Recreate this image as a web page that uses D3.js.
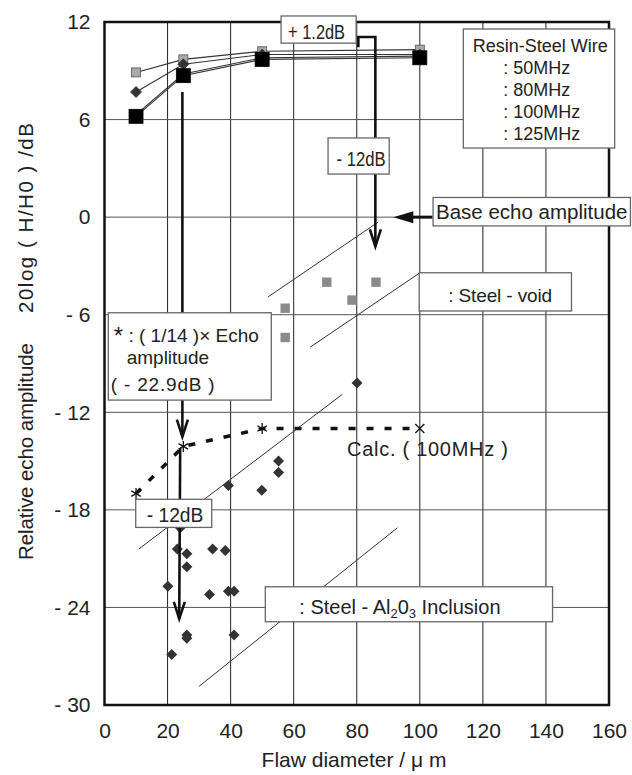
<!DOCTYPE html>
<html><head><meta charset="utf-8">
<script src="https://cdn.jsdelivr.net/npm/d3@7"></script>
<style>
body{margin:0;background:#fff}
text{font-family:"Liberation Sans",Arial,Helvetica,sans-serif;fill:#222}
</style>
</head><body>
<svg id="chart" width="632" height="775"></svg>
<script>
// ---------------- data ----------------
const xTicks = [0,20,40,60,80,100,120,140,160];
const yTicks = [-30,-24,-18,-12,-6,0,6,12];

const wireDiam = [10,25,50,100];
const freqLabels = ["50MHz","80MHz","100MHz","125MHz"];
const wire50MHz  = [8.9, 9.7, 10.2, 10.3];
const wire80MHz  = [7.7, 9.4, 10.0, 10.0];
const wire100MHz = [6.3, 8.8, 9.8, 9.9];
const wire125MHz = [6.2, 8.7, 9.7, 9.8];

const voidDiam = [57.3, 57.3, 70.5, 78.5, 86.1];
const voidAmp  = [-5.6, -7.4, -4.0, -5.1, -4.0];

const inclDiam = [80.1, 55.2, 55.2, 39.3, 49.9, 24.0, 23.1, 26.1, 26.1, 34.3, 38.3, 20.1, 33.3, 39.3, 41.1, 26.1, 26.1, 41.1, 21.3];
const inclAmp  = [-10.2,-15.0,-15.7,-16.5,-16.8,-19.1,-20.4,-20.7,-21.5,-20.4,-20.5,-22.7,-23.2,-23.0,-23.0,-25.7,-25.9,-25.7,-26.9];

const calcDiam = [10, 25, 50, 100];
const calcAmp  = [-17.0, -14.1, -13.0, -13.0];

// ---------------- layout ----------------
const svg = d3.select("#chart");
const x = d3.scaleLinear().domain([0,160]).range([104.5,609]);
const y = d3.scaleLinear().domain([-30,12]).range([705,22]);

// grid
const g = svg.append("g");
g.selectAll(".vg").data(xTicks.slice(1,-1)).join("line")
  .attr("x1",d=>x(d)).attr("x2",d=>x(d)).attr("y1",y(12)).attr("y2",y(-30))
  .attr("stroke","#222").attr("stroke-width",1);
g.selectAll(".hg").data(yTicks.slice(1,-1)).join("line")
  .attr("x1",x(0)).attr("x2",x(160)).attr("y1",d=>y(d)).attr("y2",d=>y(d))
  .attr("stroke","#555").attr("stroke-width",1);

// axes
const xAxis = svg.append("g").attr("transform",`translate(0,${y(-30)})`)
  .call(d3.axisBottom(x).tickValues(xTicks).tickSize(0).tickPadding(18).tickFormat(d=>d));
xAxis.select(".domain").remove();
xAxis.selectAll("text").attr("font-size",21).attr("font-family",null).attr("fill","#222");

const yAxis = svg.append("g").attr("transform",`translate(${x(0)},0)`)
  .call(d3.axisLeft(y).tickValues(yTicks).tickSize(0).tickPadding(14)
    .tickFormat(d=> d<0 ? "- "+Math.abs(d) : String(d)));
yAxis.select(".domain").remove();
yAxis.selectAll("text").attr("font-size",21).attr("font-family",null).attr("fill","#222");

// axis titles
svg.append("text").attr("transform","translate(33,560) rotate(-90)")
  .attr("font-size",20.5).attr("textLength",217).attr("lengthAdjust","spacing")
  .text("Relative echo amplitude");
svg.append("text").attr("transform","translate(33,313) rotate(-90)")
  .attr("font-size",20.5).attr("textLength",190).attr("lengthAdjust","spacing")
  .text("20log ( H/H0 ) /dB");
svg.append("text").attr("x",354).attr("y",767).attr("text-anchor","middle")
  .attr("font-size",21)
  .text("Flaw diameter / μ m");

// guide lines (diagonal)
const guideLines = [
  [[51.9,-4.9],[86.8,-0.3]],
  [[65.2,-8.0],[99.8,-3.45]],
  [[10.95,-20.4],[75.4,-10.9]],
  [[30.0,-28.85],[92.9,-19.1]]
];
const line = d3.line().x(d=>x(d[0])).y(d=>y(d[1]));
svg.append("g").selectAll("path").data(guideLines).join("path")
  .attr("d",line).attr("fill","none").attr("stroke","#333").attr("stroke-width",1);

// calc dashed line
const calcPts = calcDiam.map((d,i)=>[d,calcAmp[i]]);
svg.append("path").attr("d",line(calcPts)).attr("fill","none")
  .attr("stroke","#111").attr("stroke-width",3.5).attr("stroke-dasharray","7 11");

// wire series
const series = [
  {name:freqLabels[0], vals:wire50MHz, shape:"sq", size:9, fill:"#a9a9a9", stroke:"#555"},
  {name:freqLabels[1], vals:wire80MHz, shape:"dia", size:11, fill:"#333", stroke:"#333"},
  {name:freqLabels[2], vals:wire100MHz, shape:"sq", size:7, fill:"#111", stroke:"#111"},
  {name:freqLabels[3], vals:wire125MHz, shape:"sq", size:14, fill:"#000", stroke:"#000"}
];
series.forEach(s=>{
  svg.append("path").attr("d",line(wireDiam.map((d,i)=>[d,s.vals[i]])))
    .attr("fill","none").attr("stroke","#333").attr("stroke-width",1.1);
});
function drawMarker(sel, shape, size){
  if(shape==="sq"){
    sel.append("rect").attr("x",-size/2).attr("y",-size/2).attr("width",size).attr("height",size);
  } else {
    const h=size/2;
    sel.append("path").attr("d",`M0,${-h}L${h},0L0,${h}L${-h},0Z`);
  }
}
series.forEach(s=>{
  wireDiam.forEach((d,i)=>{
    const m = svg.append("g").attr("transform",`translate(${x(d)},${y(s.vals[i])})`)
      .attr("fill",s.fill).attr("stroke",s.stroke).attr("stroke-width",0.8);
    drawMarker(m,s.shape,s.size);
  });
});

// steel-void squares
svg.append("g").selectAll("rect").data(voidDiam.map((d,i)=>[d,voidAmp[i]])).join("rect")
  .attr("x",d=>x(d[0])-4.7).attr("y",d=>y(d[1])-4.7).attr("width",9.4).attr("height",9.4)
  .attr("fill","#8a8a8a");
// inclusion diamonds
svg.append("g").selectAll("path").data(inclDiam.map((d,i)=>[d,inclAmp[i]])).join("path")
  .attr("transform",d=>`translate(${x(d[0])},${y(d[1])})`)
  .attr("d","M0,-5.5L5.5,0L0,5.5L-5.5,0Z").attr("fill","#333");

// calc markers: asterisks + cross at last
calcPts.forEach((p,i)=>{
  const gg = svg.append("g").attr("transform",`translate(${x(p[0])},${y(p[1])})`)
    .attr("stroke","#111").attr("stroke-width",1.3);
  if(i<calcPts.length-1){
    [0,60,120].forEach(a=>{
      const r=5.5, t=a*Math.PI/180;
      gg.append("line").attr("x1",-r*Math.sin(t)).attr("y1",-r*Math.cos(t))
        .attr("x2",r*Math.sin(t)).attr("y2",r*Math.cos(t));
    });
  } else {
    gg.append("line").attr("x1",-4.5).attr("y1",-4.5).attr("x2",4.5).attr("y2",4.5);
    gg.append("line").attr("x1",-4.5).attr("y1",4.5).attr("x2",4.5).attr("y2",-4.5);
  }
});

// arrows
function vArrow(pts){
  svg.append("path").attr("d",line(pts)).attr("fill","none")
    .attr("stroke","#111").attr("stroke-width",2.6).attr("stroke-linejoin","miter");
  const a=pts[pts.length-1], b=pts[pts.length-2];
  const tx=x(a[0]), ty=y(a[1]);
  const ang=Math.atan2(ty-y(b[1]), tx-x(b[0]));
  const L=17, W=5.5;
  const bx=tx-L*Math.cos(ang), by=ty-L*Math.sin(ang);
  const nx=-Math.sin(ang)*W, ny=Math.cos(ang)*W;
  svg.append("path").attr("d",`M${bx+nx},${by+ny}L${tx},${ty}L${bx-nx},${by-ny}`)
    .attr("fill","none").attr("stroke","#111").attr("stroke-width",2.6);
}
vArrow([[24.7,7.7],[24.7,-13.5]]);
vArrow([[24.0,-14.2],[23.7,-24.7]]);
vArrow([[80.5,10.45],[80.5,11.08],[85.9,11.08],[85.9,-1.8]]);
// base echo arrow (filled head)
(function(){
  const x0=x(104), x1=x(91.6), yy=y(0);
  svg.append("line").attr("x1",x0).attr("x2",x1+18).attr("y1",yy).attr("y2",yy)
    .attr("stroke","#111").attr("stroke-width",3);
  svg.append("path").attr("d",`M${x1},${yy}L${x1+20},${yy-6}L${x1+20},${yy+6}Z`).attr("fill","#111");
})();

// frame
svg.append("rect").attr("x",x(0)).attr("y",y(12)).attr("width",x(160)-x(0)).attr("height",y(-30)-y(12))
  .attr("fill","none").attr("stroke","#111").attr("stroke-width",2.5);

// annotation boxes
function box(b){
  const X0=x(b[0]), X1=x(b[1]), Y0=y(b[2]), Y1=y(b[3]);
  svg.append("rect").attr("x",X0).attr("y",Y0).attr("width",X1-X0).attr("height",Y1-Y0)
    .attr("fill","#fff").attr("stroke","#666").attr("stroke-width",1.3);
  return [X0,Y0];
}
function label(x0,y0,txt,size,len,adj){
  const t=svg.append("text").attr("x",x0).attr("y",y0).attr("font-size",size).text(txt);
  if(len) t.attr("textLength",len).attr("lengthAdjust",adj||"spacingAndGlyphs");
  return t;
}
let p;
p=box([56.0,79.8,12.37,10.7]);   label(p[0]+7,p[1]+23,"+ 1.2dB",19.5,57);
p=box([70.9,90.3,4.87,2.65]);    label(p[0]+8.5,p[1]+28,"- 12dB",20.5,49);
p=box([104.2,166.8,1.21,-0.54]); label(p[0]+3,p[1]+22,"Base echo amplitude",20.5);
p=box([1.2,52.9,-5.88,-11.25]);
(function(){
  const t=label(p[0]+5.5,p[1]+29,"",19);
  t.append("tspan").attr("font-size",24).attr("dy",2).text("*");
  t.append("tspan").attr("dy",-2).text(" : ( 1/14 )× Echo");
})();
label(p[0]+18.4,p[1]+50.8,"amplitude",19);
label(p[0]+2.4,p[1]+78.3,"(  - 22.9dB )",19,104,"spacing");
p=box([9.9,34.0,-17.35,-19.08]); label(p[0]+11,p[1]+22.4,"- 12dB",20,56.7);
p=box([99.8,148.1,-3.42,-5.77]); label(p[0]+29,p[1]+29,": Steel - void",19,104,"spacing");
p=box([51.0,142.1,-22.73,-24.88]);
(function(){
  const t=label(p[0]+34,p[1]+27.3,"",20);
  t.append("tspan").text(": Steel - Al");
  t.append("tspan").attr("font-size",13).attr("dy",4).text("2");
  t.append("tspan").attr("dy",-4).text("0");
  t.append("tspan").attr("font-size",13).attr("dy",4).text("3");
  t.append("tspan").attr("dy",-4).text(" Inclusion");
})();

// calc label
label(x(76.9),y(-14.69),"Calc. ( 100MHz )",20,161,"spacing");

// legend
p=box([113.8,161.8,11.57,4.25]);
svg.append("text").attr("x",p[0]+77).attr("y",p[1]+23).attr("font-size",18)
  .attr("text-anchor","middle").text("Resin-Steel Wire");
freqLabels.forEach((f,i)=>{
  svg.append("text").attr("x",p[0]+40).attr("y",p[1]+45+i*22).attr("font-size",18)
    .text(":  "+f);
});
</script>
</body></html>
